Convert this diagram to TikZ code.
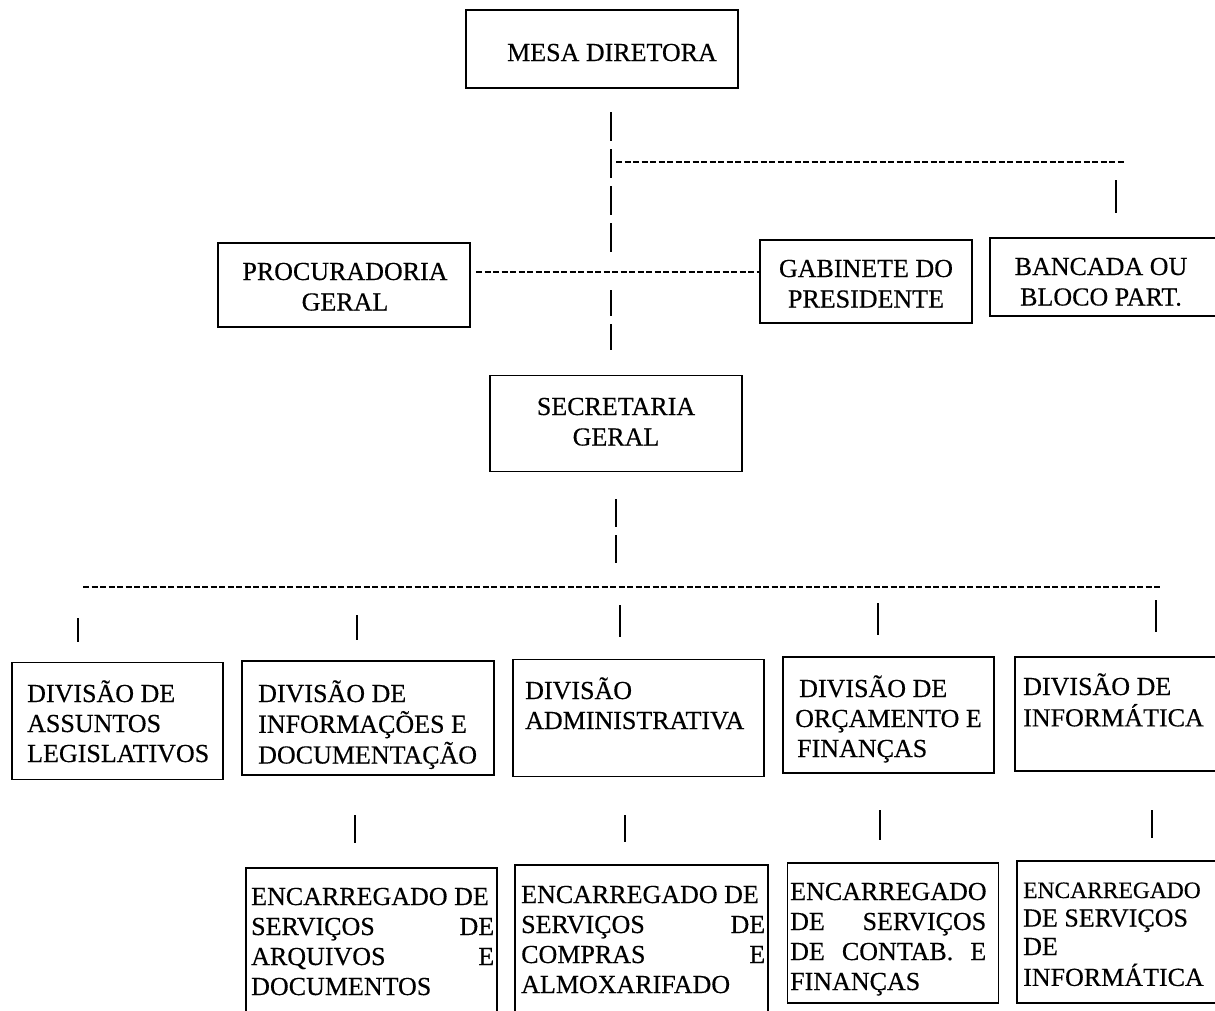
\documentclass[tikz,border=0pt]{standalone}
\usepackage{fontspec}
\setmainfont{Liberation Serif}[UprightFeatures={FakeBold=0.35}]
\newcommand{\blines}[1]{\begin{tabular}[t]{@{}l@{}}#1\end{tabular}}
\newcommand{\clines}[1]{\begin{tabular}[t]{@{}c@{}}#1\end{tabular}}
\begin{document}
\begin{tikzpicture}[x=1pt,y=-1pt,
  box/.style={draw, line width=1.8pt, inner sep=0pt},
  lbl/.style={inner sep=0pt, font=\fontsize{26}{30.5}\selectfont},
  lblm/.style={inner sep=0pt, font=\fontsize{26}{30}\selectfont},
  lblb/.style={inner sep=0pt, font=\fontsize{26}{30}\selectfont},
  lbls/.style={inner sep=0pt, font=\fontsize{26}{28.5}\selectfont},
  finedash/.style={line width=1.8pt, dash pattern=on 6pt off 2.5pt},
  longdash/.style={line width=2pt, dash pattern=on 29pt off 8pt},
  tick/.style={line width=2pt}]
\clip (0,0) rectangle (1215,1010);
\fill[white] (0,0) rectangle (1215,1010);
% boxes
\node[box, minimum width=272pt, minimum height=78pt] (mesa) at (602,49) {};
\node[box, minimum width=252pt, minimum height=84pt] (proc) at (344,285) {};
\node[box, minimum width=212pt, minimum height=83pt] (gab) at (866,281.5) {};
\node[box, minimum width=232pt, minimum height=78pt] (banc) at (1106,277) {};
\node[box, minimum width=252pt, minimum height=96pt] (sec) at (616,423.5) {};
\node[box, minimum width=211pt, minimum height=117pt] (b1) at (117.5,721) {};
\node[box, minimum width=252pt, minimum height=114pt] (b2) at (368,718) {};
\node[box, minimum width=251pt, minimum height=117pt] (b3) at (638.5,718) {};
\node[box, minimum width=211pt, minimum height=116pt] (b4) at (888.5,715) {};
\node[box, minimum width=207pt, minimum height=114pt] (b5) at (1118.5,714) {};
\node[box, minimum width=251pt, minimum height=163pt] (b6) at (371.5,949.5) {};
\node[box, minimum width=253pt, minimum height=165pt] (b7) at (641.5,947.5) {};
\node[box, minimum width=211pt, minimum height=140pt] (b8) at (893,933) {};
\node[box, minimum width=205pt, minimum height=142pt] (b9) at (1119.5,932) {};
% texts
\node[lbl, anchor=base] (tmesa) at (612,61) {MESA DIRETORA};
\node[lbl, anchor=base] (tproc) at (345,280) {\clines{PROCURADORIA\\GERAL}};
\node[lbl, anchor=base] (tgab) at (866,277) {\clines{GABINETE DO\\PRESIDENTE}};
\node[lbl, anchor=base] (tbanc) at (1101,275) {\clines{BANCADA OU\\BLOCO PART.}};
\node[lbl, anchor=base] (tsec) at (616,415) {\clines{SECRETARIA\\GERAL}};
\node[lblm, anchor=base west] (t1) at (27,702) {\blines{DIVISÃO DE\\ASSUNTOS\\LEGISLATIVOS}};
\node[lblm, anchor=base west] (t2) at (258,702) {\blines{DIVISÃO DE\\INFORMAÇÕES E\\DOCUMENTAÇÃO}};
\node[lblm, anchor=base west] (t3) at (525,699) {\blines{DIVISÃO\\ADMINISTRATIVA}};
\node[lblm, anchor=base west] (t4) at (795,697) {\blines{\hspace{4pt}DIVISÃO DE\\ORÇAMENTO E\\\hspace{2pt}FINANÇAS}};
\node[lblm, anchor=base west] (t5) at (1023,695) {\blines{DIVISÃO DE\\INFORMÁTICA}};
\node[lblb, anchor=base west] (t6) at (251,905) {\blines{ENCARREGADO DE\\\makebox[243pt][s]{SERVIÇOS DE}\\\makebox[243pt][s]{ARQUIVOS E}\\DOCUMENTOS}};
\node[lblb, anchor=base west] (t7) at (521,903) {\blines{ENCARREGADO DE\\\makebox[244pt][s]{SERVIÇOS DE}\\\makebox[244pt][s]{COMPRAS E}\\ALMOXARIFADO}};
\node[lblb, anchor=base west] (t8) at (790,900) {\blines{ENCARREGADO\\\makebox[196pt][s]{DE SERVIÇOS}\\\makebox[196pt][s]{DE CONTAB. E}\\FINANÇAS}};
\node[lbls, anchor=base west] (t9) at (1023,898) {\blines{{\fontsize{23.5}{28}\selectfont ENCARREGADO}\\DE SERVIÇOS\\DE\\INFORMÁTICA}};
% connectors
\coordinate (m1) at (611,112); \coordinate (m2) at (611,253);
\draw[longdash] (m1) -- (m2);
\coordinate (m3) at (611,290); \coordinate (m4) at (611,354);
\draw[line width=2pt, dash pattern=on 26pt off 8pt] (m3) -- (m4);
\coordinate (h1a) at (616,162); \coordinate (h1b) at (1125,162);
\draw[finedash] (h1a) -- (h1b);
\coordinate (bt1) at (1116,180); \coordinate (bt2) at (1116,213);
\draw[tick] (bt1) -- (bt2);
\coordinate (pg1) at (476,272); \coordinate (pg2) at (759,272);
\draw[finedash] (pg1) -- (pg2);
\coordinate (s1) at (616,499); \coordinate (s2) at (616,563);
\draw[line width=2pt, dash pattern=on 28pt off 8pt] (s1) -- (s2);
\coordinate (d1) at (83,587); \coordinate (d2) at (1162,587);
\draw[finedash] (d1) -- (d2);
\foreach \x/\ya/\yb [count=\i] in {78/618/642, 357/615/640, 620/605/637, 878/603/635, 1156/600/632}
  { \coordinate (ua\i) at (\x,\ya); \coordinate (ub\i) at (\x,\yb); \draw[tick] (ua\i) -- (ub\i); }
\foreach \x/\ya/\yb [count=\i] in {355/815/843, 625/815/842, 880/810/840, 1152/810/838}
  { \coordinate (la\i) at (\x,\ya); \coordinate (lb\i) at (\x,\yb); \draw[tick] (la\i) -- (lb\i); }
\end{tikzpicture}
\end{document}
